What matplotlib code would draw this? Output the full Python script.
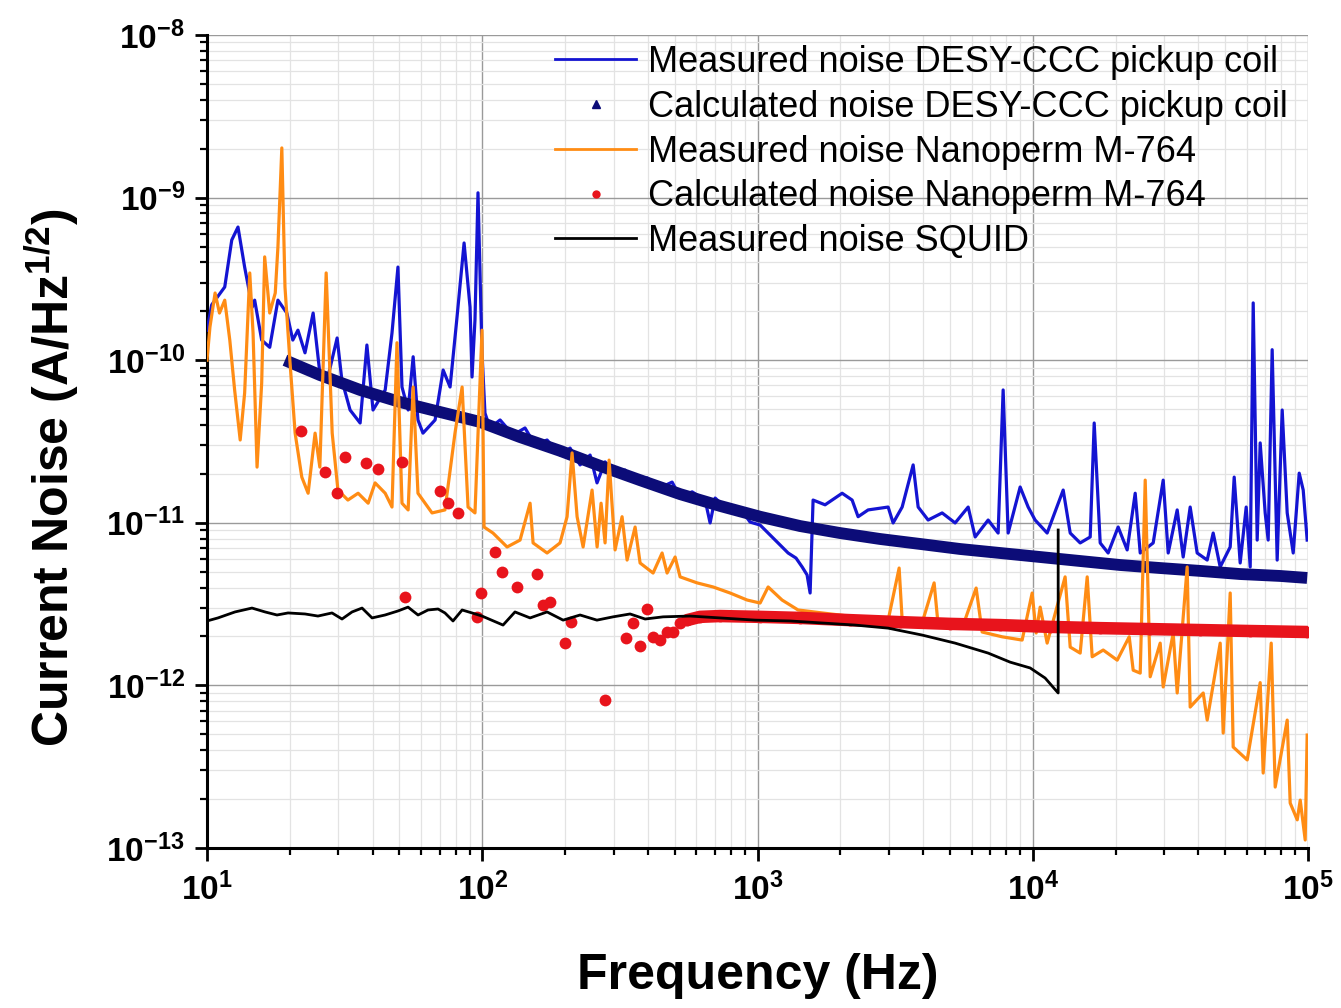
import matplotlib
matplotlib.use("Agg")
import matplotlib.pyplot as plt
from matplotlib.lines import Line2D
from matplotlib.ticker import LogLocator, FuncFormatter, NullFormatter
import numpy as np

plt.rcParams['font.family'] = ['Liberation Sans', 'DejaVu Sans']
plt.rcParams['mathtext.fontset'] = 'custom'
plt.rcParams['mathtext.rm'] = 'Liberation Sans'
plt.rcParams['mathtext.bf'] = 'Liberation Sans:bold'
plt.rcParams['mathtext.it'] = 'Liberation Sans:italic'

# ---------------- data ----------------
desy_meas_f = [10.0, 10.4, 11.6, 12.3, 12.96, 13.7, 14.6, 14.9, 15.8, 16.9, 18.1, 19.5, 20.5, 21.4,
               22.7, 24.3, 25.7, 27.5, 29.7, 30.9, 33.1, 36.0, 38.1, 40.1, 44.4, 47.0, 49.4, 51.1,
               53.8, 56.1, 58.4, 60.9, 67.4, 72.1, 76.4, 81.0, 85.9, 90.3, 91.8, 94.1, 96.5, 99.8,
               102.3, 106.7, 116.1, 129.4, 143.0, 155.6, 172.0, 191.7, 208.5, 226.7, 246.5, 261.2,
               279.4, 298.7, 330.4, 359.2, 397.1, 442.6, 489.5, 523.4, 578.8, 645.1, 672.7, 701.5,
               782.0, 864.8, 940.0, 1022, 1130, 1208, 1292, 1380, 1453, 1514, 1553, 1592, 1760,
               2030, 2207, 2320, 2523, 2983, 3110, 3354, 3677, 3834, 4168, 4686, 5224, 5826, 6177,
               6886, 7486, 7806, 8140, 9000, 9623, 10200, 11280, 12900, 13680, 14870, 16170, 16720,
               17580, 18790, 20430, 22030, 23560, 24570, 27390, 29780, 31050, 33480, 35200, 37320,
               39570, 43030, 45240, 47970, 52160, 53930, 56700, 59630, 61660, 63230, 65370, 67030,
               69890, 71670, 74100, 77270, 80580, 84030, 88360, 92900, 96070, 99300]
desy_meas_v = [1.53e-10, 2.19e-10, 2.82e-10, 5.48e-10, 6.59e-10, 3.74e-10, 2.12e-10, 2.34e-10,
               1.33e-10, 1.20e-10, 2.34e-10, 1.95e-10, 1.33e-10, 1.53e-10, 1.11e-10, 1.95e-10,
               8.34e-11, 7.88e-11, 1.37e-10, 7.55e-11, 4.94e-11, 4.11e-11, 1.24e-10, 4.94e-11,
               6.56e-11, 1.47e-10, 3.74e-10, 6.84e-11, 4.94e-11, 1.05e-10, 4.29e-11, 3.56e-11,
               4.29e-11, 8.70e-11, 6.84e-11, 1.85e-10, 5.26e-10, 2.12e-10, 7.88e-11, 1.77e-10,
               1.07e-9, 1.11e-10, 4.73e-11, 3.83e-11, 4.29e-11, 3.47e-11, 3.83e-11, 3.01e-11,
               3.23e-11, 2.61e-11, 2.88e-11, 2.27e-11, 2.61e-11, 1.76e-11, 2.37e-11, 2.05e-11,
               2.11e-11, 1.78e-11, 1.89e-11, 1.64e-11, 1.78e-11, 1.44e-11, 1.55e-11, 1.38e-11,
               9.98e-12, 1.42e-11, 1.20e-11, 1.23e-11, 1.01e-11, 9.69e-12, 8.18e-12, 7.30e-12,
               6.52e-12, 6.07e-12, 5.35e-12, 4.78e-12, 3.70e-12, 1.38e-11, 1.29e-11, 1.52e-11,
               1.38e-11, 1.09e-11, 1.20e-11, 1.25e-11, 9.98e-12, 1.25e-11, 2.27e-11, 1.25e-11,
               1.04e-11, 1.15e-11, 9.98e-12, 1.25e-11, 8.18e-12, 1.04e-11, 8.65e-12, 6.56e-11,
               8.65e-12, 1.66e-11, 1.25e-11, 1.04e-11, 8.65e-12, 1.59e-11, 8.65e-12, 7.52e-12,
               8.18e-12, 4.11e-11, 7.52e-12, 6.52e-12, 9.42e-12, 6.81e-12, 1.52e-11, 6.52e-12,
               7.52e-12, 1.83e-11, 6.52e-12, 1.20e-11, 6.16e-12, 1.25e-11, 6.52e-12, 5.90e-12,
               8.65e-12, 5.35e-12, 7.10e-12, 1.91e-11, 5.66e-12, 1.25e-11, 5.35e-12, 2.25e-10,
               7.83e-12, 3.10e-11, 1.15e-11, 7.83e-12, 1.16e-10, 5.90e-12, 4.94e-11, 1.15e-11,
               6.52e-12, 2.02e-11, 1.59e-11, 7.83e-12]

desy_calc_f = [19.2, 25.7, 36.0, 50.3, 70.3, 98.2, 137, 192, 268, 374, 524, 731, 1021, 1428, 1995,
               2790, 3899, 5447, 7612, 10640, 14870, 20780, 29040, 40580, 56720, 79260, 99300]
desy_calc_v = [1.0e-10, 8.11e-11, 6.56e-11, 5.53e-11, 4.80e-11, 4.17e-11, 3.37e-11, 2.77e-11,
               2.24e-11, 1.83e-11, 1.50e-11, 1.27e-11, 1.09e-11, 9.55e-12, 8.65e-12, 7.95e-12,
               7.41e-12, 6.90e-12, 6.52e-12, 6.16e-12, 5.82e-12, 5.50e-12, 5.27e-12, 5.06e-12,
               4.84e-12, 4.71e-12, 4.58e-12]

nano_meas_f = [10.0, 10.25, 10.7, 11.1, 11.6, 12.1, 12.6, 13.2, 13.7, 14.3, 14.7, 15.2, 15.8, 16.2,
               16.9, 17.7, 18.1, 18.7, 19.2, 20.0, 20.9, 22.1, 23.3, 24.7, 25.7, 27.1, 28.5, 29.9,
               32.5, 35.4, 38.5, 40.8, 44.4, 47.0, 49.0, 51.1, 53.8, 56.1, 58.4, 65.7, 73.2, 79.6,
               84.5, 88.8, 94.1, 99.8, 101.5, 109.4, 123.1, 137.2, 149.2, 153.0, 172.0, 191.7,
               203.3, 212.0, 221.1, 232.5, 250.6, 261.4, 270.2, 279.4, 288.9, 303.8, 322.1, 335.9,
               359.2, 374.5, 417.5, 450.2, 469.4, 502.0, 523.4, 603.4, 690.0, 795.1, 916.9, 1022,
               1093, 1228, 1404, 1717, 2263, 2983, 3270, 3354, 3963, 4382, 4532, 5540, 6228, 6548,
               7743, 9151, 9950, 10290, 10640, 11280, 13110, 13680, 14870, 15770, 16440, 18030,
               20270, 22410, 23170, 24570, 25620, 26710, 29040, 29780, 32380, 33480, 36390, 37320,
               41620, 43030, 47970, 49190, 52160, 53480, 60140, 67030, 68730, 73510, 76000, 84030,
               86160, 91390, 93700, 97680, 99300]
nano_meas_v = [1.0e-10, 1.60e-10, 2.59e-10, 1.95e-10, 2.34e-10, 1.33e-10, 6.56e-11, 3.23e-11,
               6.28e-11, 3.44e-10, 1.47e-10, 2.20e-11, 7.24e-11, 4.32e-10, 1.95e-10, 2.59e-10,
               4.97e-10, 2.02e-9, 2.82e-10, 1.0e-10, 3.56e-11, 1.91e-11, 1.52e-11, 3.56e-11,
               2.20e-11, 3.44e-10, 3.56e-11, 1.59e-11, 1.38e-11, 1.52e-11, 1.32e-11, 1.76e-11,
               1.52e-11, 1.25e-11, 1.28e-10, 1.32e-11, 1.20e-11, 6.84e-11, 1.52e-11, 1.15e-11,
               1.20e-11, 3.56e-11, 6.84e-11, 1.25e-11, 1.15e-11, 1.53e-10, 9.42e-12, 8.65e-12,
               7.10e-12, 7.83e-12, 1.32e-11, 7.52e-12, 6.52e-12, 7.52e-12, 1.09e-11, 2.69e-11,
               1.09e-11, 7.10e-12, 1.59e-11, 7.10e-12, 1.32e-11, 7.52e-12, 2.43e-11, 6.81e-12,
               1.09e-11, 5.90e-12, 9.42e-12, 5.66e-12, 4.91e-12, 6.52e-12, 4.91e-12, 6.16e-12,
               4.65e-12, 4.27e-12, 4.03e-12, 3.70e-12, 3.35e-12, 3.21e-12, 4.03e-12, 3.35e-12,
               2.91e-12, 2.79e-12, 2.64e-12, 2.52e-12, 5.27e-12, 2.52e-12, 2.42e-12, 4.27e-12,
               2.35e-12, 2.25e-12, 3.97e-12, 2.13e-12, 1.99e-12, 1.90e-12, 3.70e-12, 2.10e-12,
               3.03e-12, 1.82e-12, 4.65e-12, 1.72e-12, 1.58e-12, 4.65e-12, 1.50e-12, 1.65e-12,
               1.43e-12, 1.99e-12, 1.24e-12, 1.19e-12, 1.83e-11, 1.13e-12, 1.82e-12, 9.78e-13,
               2.10e-12, 8.98e-13, 5.35e-12, 7.36e-13, 8.98e-13, 6.12e-13, 1.82e-12, 5.09e-13,
               3.70e-12, 4.18e-13, 3.48e-13, 1.04e-12, 2.89e-13, 1.82e-12, 2.37e-13, 6.12e-13,
               1.89e-13, 1.49e-13, 1.97e-13, 1.12e-13, 4.95e-13]

nano_calc_f = [21.9, 26.8, 31.7, 29.7, 37.8, 41.8, 51.1, 52.4, 70.3, 75.1, 81.7, 99.0, 95.8, 111.3,
               118, 133.8, 158.1, 166.3, 176.4, 200, 210.2, 279.4, 333, 353, 374.5, 397, 417.5,
               442.6, 469.4, 493.5, 523.4, 554.6, 618.6, 731, 1021, 1428, 2170, 3297, 5010, 7612,
               11570, 17580, 26710, 40580, 61660, 99300]
nano_calc_v = [3.67e-11, 2.05e-11, 2.54e-11, 1.53e-11, 2.33e-11, 2.14e-11, 2.37e-11, 3.50e-12,
               1.57e-11, 1.32e-11, 1.15e-11, 3.70e-12, 2.64e-12, 6.61e-12, 4.98e-12, 4.03e-12,
               4.84e-12, 3.12e-12, 3.26e-12, 1.82e-12, 2.45e-12, 8.13e-13, 1.96e-12, 2.42e-12,
               1.75e-12, 2.95e-12, 1.99e-12, 1.90e-12, 2.13e-12, 2.13e-12, 2.42e-12, 2.52e-12,
               2.64e-12, 2.67e-12, 2.64e-12, 2.60e-12, 2.52e-12, 2.45e-12, 2.39e-12, 2.35e-12,
               2.29e-12, 2.25e-12, 2.22e-12, 2.19e-12, 2.16e-12, 2.13e-12]

squid_f = [10.0, 10.96, 12.64, 14.57, 16.25, 17.96, 19.70, 22.71, 25.3, 28.46, 30.94, 33.65, 36.59,
           39.78, 44.35, 49.43, 53.75, 58.44, 63.53, 69.1, 73.2, 78.3, 84.5, 91.8, 99.8, 119,
           131.5, 149.2, 172, 196.7, 226.7, 261, 298.7, 344.4, 390.5, 453.9, 568.9, 731, 980,
           1314, 1717, 2263, 2983, 3963, 5224, 6887, 8277, 9787, 11090, 12370, 12370]
squid_v = [2.49e-12, 2.60e-12, 2.83e-12, 2.99e-12, 2.83e-12, 2.71e-12, 2.79e-12, 2.75e-12,
           2.67e-12, 2.79e-12, 2.56e-12, 2.83e-12, 2.99e-12, 2.60e-12, 2.71e-12, 2.87e-12,
           3.03e-12, 2.71e-12, 2.91e-12, 2.95e-12, 2.79e-12, 2.49e-12, 2.91e-12, 2.79e-12,
           2.67e-12, 2.35e-12, 2.83e-12, 2.60e-12, 2.83e-12, 2.52e-12, 2.71e-12, 2.52e-12,
           2.64e-12, 2.75e-12, 2.56e-12, 2.64e-12, 2.67e-12, 2.60e-12, 2.52e-12, 2.49e-12,
           2.42e-12, 2.35e-12, 2.25e-12, 2.04e-12, 1.82e-12, 1.58e-12, 1.39e-12, 1.28e-12,
           1.11e-12, 8.98e-13, 9.03e-12]

legend_labels = ["Measured noise DESY-CCC pickup coil",
                 "Calculated noise DESY-CCC pickup coil",
                 "Measured noise Nanoperm M-764",
                 "Calculated noise Nanoperm M-764",
                 "Measured noise SQUID"]

# ---------------- styling ----------------
C_BLUE = '#1414d2'
C_NAVY = '#0c0c78'
C_ORANGE = '#ff8c14'
C_RED = '#e8141c'
C_BLACK = '#000000'

W, H = 1341, 1008
fig = plt.figure(figsize=(W / 100, H / 100), dpi=100)
ax = fig.add_axes([207 / W, 1 - 848 / H, (1308 - 207) / W, (848 - 35) / H])

ax.plot(desy_meas_f, desy_meas_v, color=C_BLUE, lw=2.3, zorder=3)
ax.plot(desy_calc_f, desy_calc_v, color=C_NAVY, lw=8.5, solid_capstyle='butt', zorder=4)
ax.plot(nano_meas_f, nano_meas_v, color=C_ORANGE, lw=2.3, zorder=5)

nf = np.array(nano_calc_f)
nv = np.array(nano_calc_v)
band = nf >= 550
ax.plot(nf[band], nv[band], color=C_RED, lw=9, solid_capstyle='round', zorder=6)
ax.plot(nf, nv, 'o', color=C_RED, ms=8.5, mec='none', zorder=6)
ax.plot(squid_f, squid_v, color=C_BLACK, lw=2.0, zorder=7)

ax.set_xscale('log')
ax.set_yscale('log')
ax.set_xlim(10, 1e5)
ax.set_ylim(1e-13, 1e-8)

ax.xaxis.set_major_locator(LogLocator(base=10, numticks=10))
ax.xaxis.set_minor_locator(LogLocator(base=10, subs=np.arange(2, 10), numticks=20))
ax.yaxis.set_major_locator(LogLocator(base=10, numticks=10))
ax.yaxis.set_minor_locator(LogLocator(base=10, subs=np.arange(2, 10), numticks=20))
fmt = FuncFormatter(lambda v, p: r'$\mathbf{10^{%d}}$' % int(round(np.log10(v))))
ax.xaxis.set_major_formatter(fmt)
ax.yaxis.set_major_formatter(fmt)
ax.xaxis.set_minor_formatter(NullFormatter())
ax.yaxis.set_minor_formatter(NullFormatter())

ax.grid(which='major', color='#9a9a9a', lw=1.0)
ax.grid(which='minor', color='#e3e3e3', lw=0.9)
ax.set_axisbelow(True)

for s in ['top', 'right']:
    ax.spines[s].set_visible(False)
for s in ['left', 'bottom']:
    ax.spines[s].set_linewidth(2.2)

ax.tick_params(which='major', direction='out', length=9, width=2.0, labelsize=24, pad=7)
ax.tick_params(which='minor', direction='out', length=5, width=1.6)
ax.tick_params(axis='x', which='major', pad=9)

ax.set_xlabel('Frequency (Hz)', fontsize=36, fontweight='bold', va='center')
ax.xaxis.set_label_coords(0.5, (848 - 976) / 813)
ax.set_ylabel(r'Current Noise (A/Hz$^{\mathbf{1/2}}$)', fontsize=36, fontweight='bold',
              va='center')
ax.yaxis.set_label_coords((52 - 207) / 1101, (848 - 478) / 813)

handles = [Line2D([], [], color=C_BLUE, lw=2),
           Line2D([], [], color=C_NAVY, marker='^', ls='none', ms=6),
           Line2D([], [], color=C_ORANGE, lw=2),
           Line2D([], [], color=C_RED, marker='o', ls='none', ms=6, mec='none'),
           Line2D([], [], color=C_BLACK, lw=2)]
fig.legend(handles, legend_labels, loc='upper left',
           bbox_to_anchor=(555 / W, 1 - 45 / H), bbox_transform=fig.transFigure,
           frameon=False, fontsize=26, borderpad=0, borderaxespad=0,
           handlelength=2.25, handletextpad=0.33, labelspacing=0.27)

fig.savefig('out.png', dpi=100)
